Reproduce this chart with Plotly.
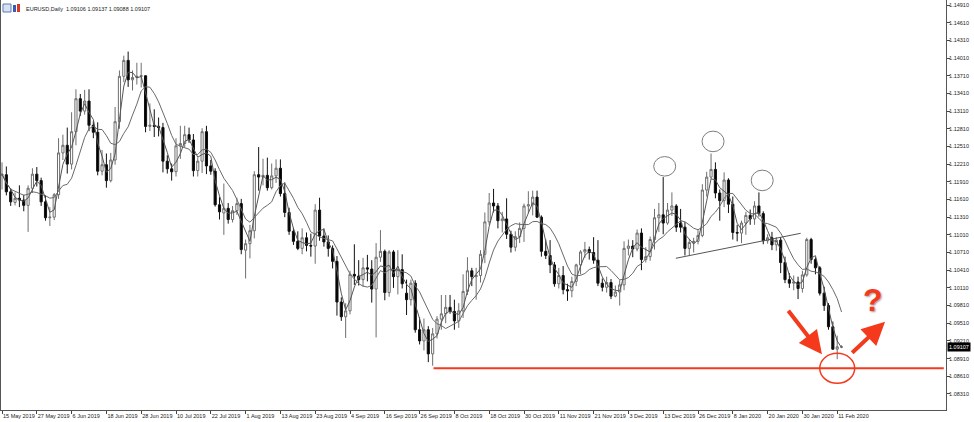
import plotly.graph_objects as go
import pandas as pd

# ---------------- data (EURUSD daily, 15 May 2019 .. 12 Feb 2020) ----------------
open_ = [1.1202,1.1203,1.1174,1.1156,1.1163,1.1160,1.1151,1.1180,1.1204,1.1193,
         1.1157,1.1130,1.1131,1.1169,1.1240,1.1253,1.1221,1.1276,1.1332,1.1311,
         1.1328,1.1287,1.1275,1.1209,1.1220,1.1193,1.1228,1.1293,1.1370,1.1397,
         1.1364,1.1368,1.1370,1.1371,1.1285,1.1287,1.1285,1.1283,1.1226,1.1213,
         1.1208,1.1252,1.1256,1.1271,1.1262,1.1210,1.1226,1.1276,1.1218,1.1209,
         1.1152,1.1138,1.1146,1.1127,1.1142,1.1154,1.1075,1.1086,1.1108,1.1203,
         1.1199,1.1202,1.1181,1.1201,1.1214,1.1171,1.1139,1.1107,1.1090,1.1078,
         1.1096,1.1083,1.1082,1.1143,1.1099,1.1089,1.1078,1.1056,1.0987,1.0962,
         1.0972,1.1034,1.1031,1.1025,1.1045,1.1043,1.1009,1.1063,1.1073,1.1003,
         1.1072,1.1030,1.1042,1.1002,1.0991,1.1019,1.0940,1.0921,1.0940,1.0899,
         1.0933,1.0958,1.0967,1.0978,1.0971,1.0955,1.0972,1.1005,1.1040,1.1030,
         1.1032,1.1068,1.1123,1.1155,1.1150,1.1125,1.1128,1.1102,1.1080,1.1098,
         1.1112,1.1150,1.1152,1.1165,1.1131,1.1073,1.1066,1.1050,1.1018,1.1032,
         1.1008,1.1006,1.1022,1.1050,1.1072,1.1076,1.1071,1.1058,1.1019,1.1012,
         1.1020,1.0997,1.1004,1.1016,1.1078,1.1082,1.1077,1.1104,1.1059,1.1064,
         1.1093,1.1130,1.1135,1.1121,1.1143,1.1150,1.1121,1.1114,1.1078,1.1088,
         1.1090,1.1100,1.1177,1.1199,1.1212,1.1172,1.1159,1.1194,1.1153,1.1105,
         1.1104,1.1121,1.1134,1.1128,1.1150,1.1137,1.1091,1.1096,1.1084,1.1092,
         1.1054,1.1025,1.1019,1.1021,1.1010,1.1033,1.1093,1.1059,1.1045,1.1002,
         1.0981,1.0945,1.0907,1.09106]
high = [1.1224,1.1217,1.1180,1.1173,1.1185,1.1169,1.1185,1.1214,1.1216,1.1198,
        1.1168,1.1148,1.1172,1.1265,1.1271,1.1283,1.1309,1.1348,1.1340,1.1347,
        1.1348,1.1294,1.1292,1.1245,1.1239,1.1240,1.1318,1.1380,1.1405,1.1412,
        1.1380,1.1393,1.1393,1.1371,1.1324,1.1314,1.1300,1.1291,1.1236,1.1222,
        1.1265,1.1286,1.1286,1.1283,1.1272,1.1232,1.1282,1.1286,1.1228,1.1214,
        1.1165,1.1188,1.1155,1.1150,1.1164,1.1162,1.1093,1.1118,1.1209,1.1250,
        1.1230,1.1232,1.1222,1.1229,1.1229,1.1190,1.1147,1.1113,1.1107,1.1112,
        1.1105,1.1103,1.1153,1.1164,1.1112,1.1100,1.1083,1.1065,1.0995,1.0985,
        1.1040,1.1085,1.1058,1.1062,1.1067,1.1058,1.1087,1.1109,1.1076,1.1075,
        1.1075,1.1075,1.1068,1.1025,1.1025,1.1024,1.0961,1.0959,1.0946,1.0943,
        1.0963,1.0999,1.0999,1.0999,1.0991,1.0985,1.1034,1.1063,1.1045,1.1045,
        1.1075,1.1139,1.1172,1.1179,1.1155,1.1140,1.1163,1.1108,1.1107,1.1122,
        1.1154,1.1175,1.1176,1.1176,1.1134,1.1093,1.1092,1.1055,1.1045,1.1048,
        1.1018,1.1030,1.1052,1.1075,1.1089,1.1081,1.1097,1.1092,1.1027,1.1030,
        1.1026,1.1015,1.1024,1.1090,1.1093,1.1092,1.1110,1.1112,1.1080,1.1098,
        1.1145,1.1155,1.1199,1.1155,1.1173,1.1153,1.1145,1.1123,1.1094,1.1096,
        1.1109,1.1187,1.1208,1.1239,1.1224,1.1178,1.1207,1.1197,1.1166,1.1118,
        1.1125,1.1140,1.1144,1.1158,1.1173,1.1141,1.1102,1.1106,1.1097,1.1097,
        1.1064,1.1036,1.1032,1.1030,1.1040,1.1096,1.1096,1.1063,1.1048,1.1013,
        1.0985,1.0954,1.0930,1.09137]
low = [1.1178,1.1168,1.1150,1.1151,1.1148,1.1141,1.1106,1.1172,1.1183,1.1150,
       1.1125,1.1116,1.1126,1.1162,1.1228,1.1205,1.1212,1.1253,1.1303,1.1305,
       1.1277,1.1265,1.1202,1.1202,1.1181,1.1190,1.1220,1.1281,1.1360,1.1352,
       1.1346,1.1356,1.1351,1.1275,1.1277,1.1267,1.1268,1.1207,1.1205,1.1193,
       1.1200,1.1230,1.1250,1.1257,1.1200,1.1200,1.1206,1.1204,1.1203,1.1149,
       1.1127,1.1101,1.1120,1.1122,1.1135,1.1068,1.1027,1.1061,1.1095,1.1176,
       1.1185,1.1176,1.1178,1.1189,1.1166,1.1131,1.1101,1.1084,1.1075,1.1068,
       1.1073,1.1064,1.1052,1.1091,1.1081,1.1064,1.1044,1.0964,1.0955,1.0926,
       1.0966,1.1016,1.1015,1.1013,1.1022,1.0986,1.0927,1.1055,1.0990,1.0996,
       1.1011,1.1000,1.1010,1.0965,1.0981,1.0935,1.0915,1.0905,1.0885,1.0879,
       1.0925,1.0940,1.0951,1.0967,1.0940,1.0943,1.0960,1.0999,1.1014,1.0991,
       1.1020,1.1053,1.1118,1.1139,1.1112,1.1105,1.1094,1.1071,1.1073,1.1087,
       1.1089,1.1138,1.1134,1.1130,1.1064,1.1060,1.1036,1.1013,1.1010,1.1000,
       1.0989,1.0995,1.1014,1.1034,1.1062,1.1059,1.1052,1.1014,1.1005,1.1003,
       1.0992,1.0995,1.0981,1.1007,1.1066,1.1063,1.1073,1.1041,1.1054,1.1057,
       1.1076,1.1106,1.1102,1.1118,1.1133,1.1106,1.1105,1.1066,1.1065,1.1071,
       1.1085,1.1097,1.1166,1.1196,1.1163,1.1125,1.1148,1.1138,1.1093,1.1090,
       1.1087,1.1101,1.1118,1.1118,1.1132,1.1085,1.1086,1.1075,1.1074,1.1036,
       1.1019,1.1011,1.1007,1.0992,1.1003,1.1030,1.1052,1.1034,1.0998,1.0972,
       1.0940,1.0906,1.0890,1.09088]
close = [1.1204,1.1174,1.1157,1.1163,1.1160,1.1151,1.1180,1.1204,1.1193,1.1157,
         1.1130,1.1131,1.1169,1.1240,1.1253,1.1221,1.1276,1.1332,1.1311,1.1328,
         1.1287,1.1275,1.1209,1.1220,1.1193,1.1228,1.1293,1.1370,1.1397,1.1364,
         1.1368,1.1370,1.1371,1.1285,1.1287,1.1285,1.1283,1.1226,1.1213,1.1208,
         1.1252,1.1256,1.1271,1.1262,1.1210,1.1226,1.1276,1.1218,1.1209,1.1152,
         1.1140,1.1146,1.1127,1.1142,1.1154,1.1076,1.1086,1.1108,1.1203,1.1199,
         1.1202,1.1181,1.1201,1.1214,1.1171,1.1139,1.1107,1.1090,1.1078,1.1096,
         1.1083,1.1082,1.1143,1.1099,1.1089,1.1078,1.1056,1.0987,1.0962,1.0972,
         1.1034,1.1031,1.1025,1.1045,1.1043,1.1009,1.1063,1.1073,1.1003,1.1072,
         1.1030,1.1042,1.1018,1.0991,1.1019,1.0940,1.0921,1.0940,1.0899,1.0933,
         1.0958,1.0967,1.0978,1.0971,1.0955,1.0972,1.1005,1.1040,1.1030,1.1032,
         1.1068,1.1123,1.1155,1.1150,1.1125,1.1128,1.1102,1.1080,1.1098,1.1112,
         1.1150,1.1152,1.1165,1.1131,1.1073,1.1066,1.1050,1.1018,1.1032,1.1008,
         1.1006,1.1022,1.1050,1.1072,1.1076,1.1071,1.1058,1.1019,1.1012,1.1020,
         1.0997,1.1004,1.1016,1.1078,1.1082,1.1077,1.1104,1.1059,1.1064,1.1093,
         1.1130,1.1135,1.1121,1.1143,1.1150,1.1114,1.1114,1.1078,1.1088,1.1090,
         1.1100,1.1177,1.1199,1.1212,1.1172,1.1159,1.1194,1.1153,1.1105,1.1104,
         1.1121,1.1134,1.1128,1.1150,1.1137,1.1091,1.1096,1.1084,1.1092,1.1054,
         1.1025,1.1019,1.1021,1.1010,1.1033,1.1093,1.1059,1.1045,1.1002,1.0981,
         1.0945,1.0907,1.0911,1.09107]

x_tick_labels = ["15 May 2019", "27 May 2019", "6 Jun 2019", "18 Jun 2019", "28 Jun 2019",
                 "10 Jul 2019", "22 Jul 2019", "1 Aug 2019", "13 Aug 2019", "23 Aug 2019",
                 "4 Sep 2019", "16 Sep 2019", "26 Sep 2019", "8 Oct 2019", "18 Oct 2019",
                 "30 Oct 2019", "11 Nov 2019", "21 Nov 2019", "3 Dec 2019", "13 Dec 2019",
                 "26 Dec 2019", "8 Jan 2020", "20 Jan 2020", "30 Jan 2020", "11 Feb 2020"]
y_tick_labels = ["1.14910", "1.14610", "1.14310", "1.14010", "1.13710", "1.13410", "1.13110",
                 "1.12810", "1.12510", "1.12210", "1.11910", "1.11610", "1.11310", "1.11010",
                 "1.10710", "1.10410", "1.10110", "1.09810", "1.09510", "1.09210", "1.08910",
                 "1.08610", "1.08310"]
header_text = "EURUSD,Daily  1.09106 1.09137 1.09088 1.09107"
label_step = 8
fast_period = 3
slow_period = 8
support_level = 1.08745

# ---------------- figure ----------------
bars = list(range(len(close)))
cser = pd.Series(close)
ma_fast = cser.rolling(fast_period, min_periods=1).mean()
ma_slow = cser.rolling(slow_period, min_periods=1).mean()

red = "#f5391c"
gray = "#7d7d7d"
FONT = "Liberation Sans"

fig = go.Figure()
fig.add_trace(go.Scatter(x=bars, y=ma_slow, mode="lines",
                         line=dict(color="#6a6a6a", width=1), hoverinfo="skip", showlegend=False))
fig.add_trace(go.Scatter(x=bars, y=ma_fast, mode="lines",
                         line=dict(color="#555555", width=1), hoverinfo="skip", showlegend=False))
fig.add_trace(go.Candlestick(
    x=bars, open=open_, high=high, low=low, close=close,
    increasing=dict(line=dict(color="#6e6e6e", width=1), fillcolor="#ffffff"),
    decreasing=dict(line=dict(color="#111111", width=1), fillcolor="#000000"),
    whiskerwidth=0, showlegend=False))

shapes = []
# head & shoulders marker ellipses, anchored at the candle highs
for b, dx, y0, y1 in [(152, 1.5, 1.0, 20.5), (163, 2.0, 1.8, 22.4), (174, 3.3, 1.7, 22.3)]:
    shapes.append(dict(type="circle", xref="x", yref="y",
                       xsizemode="pixel", ysizemode="pixel",
                       xanchor=b, yanchor=high[b],
                       x0=dx - 11, x1=dx + 11, y0=y0, y1=y1,
                       line=dict(color=gray, width=1)))
# neckline
shapes.append(dict(type="line", xref="x", yref="y", x0=154.9, y0=1.10612, x1=183.6, y1=1.11036,
                   line=dict(color="#555555", width=1)))
# support line
shapes.append(dict(type="line", xref="x", yref="y", x0=99.2, x1=216.5,
                   y0=support_level, y1=support_level, line=dict(color=red, width=2)))
# red ellipse
shapes.append(dict(type="circle", xref="x", yref="y", xsizemode="pixel", ysizemode="pixel",
                   xanchor=192, yanchor=support_level, x0=-17.5, x1=17.5, y0=-15, y1=15,
                   line=dict(color=red, width=1.5)))
# header icons
shapes.append(dict(type="rect", xref="paper", yref="paper", x0=2/945, x1=10/945,
                   y0=(410-12)/410, y1=(410-4)/410, fillcolor="#d6e2f3",
                   line=dict(color="#5a7bb5", width=1)))
shapes.append(dict(type="rect", xref="paper", yref="paper", x0=12/945, x1=15/945,
                   y0=(410-12)/410, y1=(410-5)/410, fillcolor="#3a5bb8", line=dict(width=0)))
shapes.append(dict(type="rect", xref="paper", yref="paper", x0=16/945, x1=19/945,
                   y0=(410-12)/410, y1=(410-4)/410, fillcolor="#d83a2a", line=dict(width=0)))

annotations = [
    dict(text=header_text, xref="paper", yref="paper", x=23/945, y=(410-8.5)/410,
         xanchor="left", yanchor="middle", showarrow=False,
         font=dict(family=FONT, size=5.5, color="#222")),
    dict(text=str(close[-1]).ljust(7, "0"), xref="paper", yref="y", x=1, y=close[-1],
         xanchor="left", yanchor="middle", xshift=1, showarrow=False,
         bgcolor="#000000", borderpad=1, font=dict(family=FONT, size=5.5, color="#ffffff")),
    dict(text="", x=188.5, y=1.08984, ax=180.5, ay=1.09746, xref="x", yref="y",
         axref="x", ayref="y", showarrow=True, arrowhead=2, arrowsize=1.15,
         arrowwidth=4, arrowcolor=red, standoff=0),
    dict(text="", x=203.0, y=1.09535, ax=195.1, ay=1.08984, xref="x", yref="y",
         axref="x", ayref="y", showarrow=True, arrowhead=2, arrowsize=1.15,
         arrowwidth=4, arrowcolor=red, standoff=0),
    dict(text="<b>?</b>", x=200.3, y=1.09904, xref="x", yref="y", showarrow=False,
         font=dict(family=FONT, size=32, color=red, shadow="1px 1px 2px #9a9a9a")),
]

fig.update_layout(
    width=974, height=422,
    margin=dict(l=1, r=28, t=0, b=12, autoexpand=False),
    paper_bgcolor="white", plot_bgcolor="white",
    showlegend=False, boxgap=0.3,
    font=dict(family=FONT, size=5.5, color="#222"),
    shapes=shapes, annotations=annotations,
    xaxis=dict(range=[-0.23, 217.01], rangeslider=dict(visible=False), automargin=False,
               tickmode="array", tickvals=bars[::label_step][:len(x_tick_labels)],
               ticktext=x_tick_labels, ticks="outside", ticklen=3, tickcolor="#444",
               tickangle=0, ticklabelposition="outside right", showgrid=False, zeroline=False,
               showline=True, linecolor="#555", linewidth=1,
               tickfont=dict(family=FONT, size=5.5, color="#222")),
    yaxis=dict(range=[1.080378, 1.149948], side="right", tickmode="array", automargin=False,
               tickvals=[float(v) for v in y_tick_labels], ticktext=y_tick_labels,
               ticks="outside", ticklen=3, tickcolor="#444", showgrid=False, zeroline=False,
               ticklabelstandoff=-2,
               showline=True, mirror=True, linecolor="#555", linewidth=1,
               tickfont=dict(family=FONT, size=5.5, color="#222")),
)

fig.write_html("out.html", config={"displayModeBar": False},
               post_script="document.body.style.margin='0px';document.body.style.overflow='hidden';")
